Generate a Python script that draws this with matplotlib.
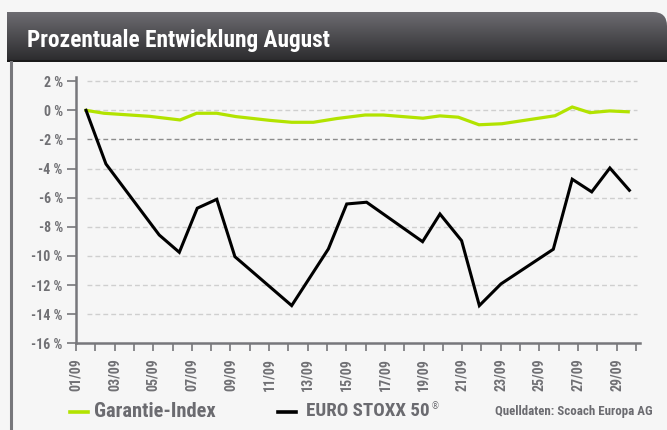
import numpy as np
import matplotlib
matplotlib.use("Agg")
import matplotlib.pyplot as plt
from matplotlib.path import Path
from matplotlib.patches import PathPatch
from matplotlib.lines import Line2D

plt.rcParams['font.family'] = ['Liberation Sans Narrow', 'Roboto Condensed', 'Lato', 'DejaVu Sans']
plt.rcParams['font.stretch'] = 'condensed'
plt.rcParams['lines.scale_dashes'] = False

# day of September (fractional, as plotted) and % change
euro_days = [1.52, 2.55, 5.31, 6.35, 7.28, 8.29, 9.23, 12.17, 14.07, 15.02, 16.05,
             18.95, 19.85, 20.97, 21.89, 23.01, 25.72, 26.70, 27.71, 28.65, 29.66]
euro_vals = [0.0, -3.68, -8.56, -9.75, -6.72, -6.11, -10.05, -13.41, -9.52, -6.43, -6.31,
             -9.02, -7.12, -8.95, -13.41, -11.92, -9.54, -4.73, -5.60, -3.96, -5.49]

gar_days = [1.52, 2.45, 4.81, 6.39, 7.25, 8.29, 9.29, 11.05, 12.17, 13.29, 14.52, 15.97,
            16.91, 18.97, 19.85, 20.80, 21.87, 23.06, 25.81, 26.70, 27.62, 28.63, 29.60]
gar_vals = [0.0, -0.20, -0.41, -0.66, -0.20, -0.20, -0.43, -0.69, -0.82, -0.82, -0.56, -0.32,
            -0.32, -0.54, -0.38, -0.47, -0.99, -0.92, -0.37, 0.23, -0.16, -0.04, -0.10]

y_ticks = list(range(-16, 3, 2))
y_labels = ['%d %%' % v for v in y_ticks]
x_label_days = list(range(1, 30, 2))
x_labels = ['%02d/09' % d for d in x_label_days]

W, H = 667, 430
fig = plt.figure(figsize=(W / 100, H / 100), dpi=100)
fig.patch.set_facecolor('#f6f6f6')
renderer = fig.canvas.get_renderer()


def fit_text(x, y, s, width_px, max_size, **kw):
    # shrink the font until the text is as wide as in the reference
    t = fig.text(x, y, s, fontsize=max_size, **kw)
    w = t.get_window_extent(renderer).width
    if w > width_px:
        t.set_fontsize(max_size * width_px / w)
    return t


# header bar with gradient and rounded top-right corner
hx0, hy0, hw, hh = 7, 12, 660, 50
axh = fig.add_axes([hx0 / W, 1 - (hy0 + hh) / H, hw / W, hh / H])
axh.set_xlim(0, hw)
axh.set_ylim(0, hh)
axh.axis('off')
top = np.array([0x6d, 0x6c, 0x71]) / 255
bot = np.array([0x2a, 0x2a, 0x2c]) / 255
t = np.linspace(0, 1, 100)[:, None]
grad = top * (1 - t) + bot * t
grad = grad[:, None, :].repeat(2, axis=1)
im = axh.imshow(grad, extent=[0, hw, 0, hh], aspect='auto', origin='upper')
r = 14
verts = [(0, 0), (hw, 0), (hw, hh - r), (hw, hh), (hw - r, hh), (0, hh), (0, 0)]
codes = [Path.MOVETO, Path.LINETO, Path.LINETO, Path.CURVE3, Path.CURVE3, Path.LINETO, Path.CLOSEPOLY]
clip = PathPatch(Path(verts, codes), transform=axh.transData, facecolor='none', edgecolor='none')
axh.add_patch(clip)
im.set_clip_path(clip)
axh.plot([0, hw], [0.6, 0.6], color='#1a1a1a', lw=1.5, solid_capstyle='butt')
fit_text(27 / W, 1 - 47.5 / H, 'Prozentuale Entwicklung August', 303, 18,
         color='white', fontweight='bold', va='baseline', ha='left')

# left frame line
fig.add_artist(Line2D([10.5 / W, 10.5 / W], [0, 1 - 62 / H], color='#77777b', lw=2.2))

# main axes
ax = fig.add_axes([76 / W, 1 - 343.3 / H, 564 / W, (343.3 - 77.3) / H])
ax.set_facecolor('none')
ax.set_xlim(1, 30.21)
ax.set_ylim(-16, 2.27)

for v in y_ticks[1:]:
    c = '#8c8c8c' if v == -2 else '#cfcfcf'
    ax.hlines(v, 1.55, 30.05, colors=c, linestyles=(0, (3.5, 2.2)), lw=1.0, zorder=1)

ax.plot(gar_days, gar_vals, color='#b2e300', lw=2.3, zorder=3, solid_joinstyle='miter')
ax.plot(euro_days, euro_vals, color='#000000', lw=2.2, zorder=4, solid_joinstyle='miter')

for s in ['top', 'right']:
    ax.spines[s].set_visible(False)
for s in ['left', 'bottom']:
    ax.spines[s].set_color('#77777b')
    ax.spines[s].set_linewidth(1.8)

ax.set_yticks(y_ticks)
ax.set_yticklabels(y_labels)
ax.tick_params(axis='y', length=6.5, width=1.2, color='#77777b', pad=3,
               labelsize=10, labelcolor='#707074')
ax.set_xticks(x_label_days)
ax.set_xticklabels(x_labels, rotation=90)
ax.set_xticks(range(2, 31, 2), minor=True)
ax.tick_params(axis='x', which='both', length=5.5, width=1.2, color='#77777b', pad=5,
               labelsize=10, labelcolor='#707074')
for lab in ax.get_xticklabels() + ax.get_yticklabels():
    lab.set_fontweight('bold')

# legend / source
ly = 1 - 411.5 / H
fig.add_artist(Line2D([70 / W, 88 / W], [ly, ly], color='#b2e300', lw=2.6))
fit_text(94 / W, ly, 'Garantie-Index', 122, 15, color='#6b6b70',
         fontweight='bold', va='center', ha='left')
fig.add_artist(Line2D([278 / W, 296 / W], [ly, ly], color='#000000', lw=2.6))
es = fit_text(306 / W, ly, 'EURO STOXX 50', 124, 15, color='#6b6b70',
              fontweight='bold', va='center', ha='left')
ex = es.get_window_extent(renderer)
fig.text((ex.x1 + 1.5) / W, ly + 0.013, '\u00ae', color='#6b6b70', fontsize=7,
         va='center', ha='left', family=['DejaVu Sans'])
fit_text(653 / W, ly, 'Quelldaten: Scoach Europa AG', 156, 10, color='#6b6b70',
         fontweight='bold', va='center', ha='right')

fig.savefig('out.png', dpi=100, facecolor=fig.get_facecolor())
